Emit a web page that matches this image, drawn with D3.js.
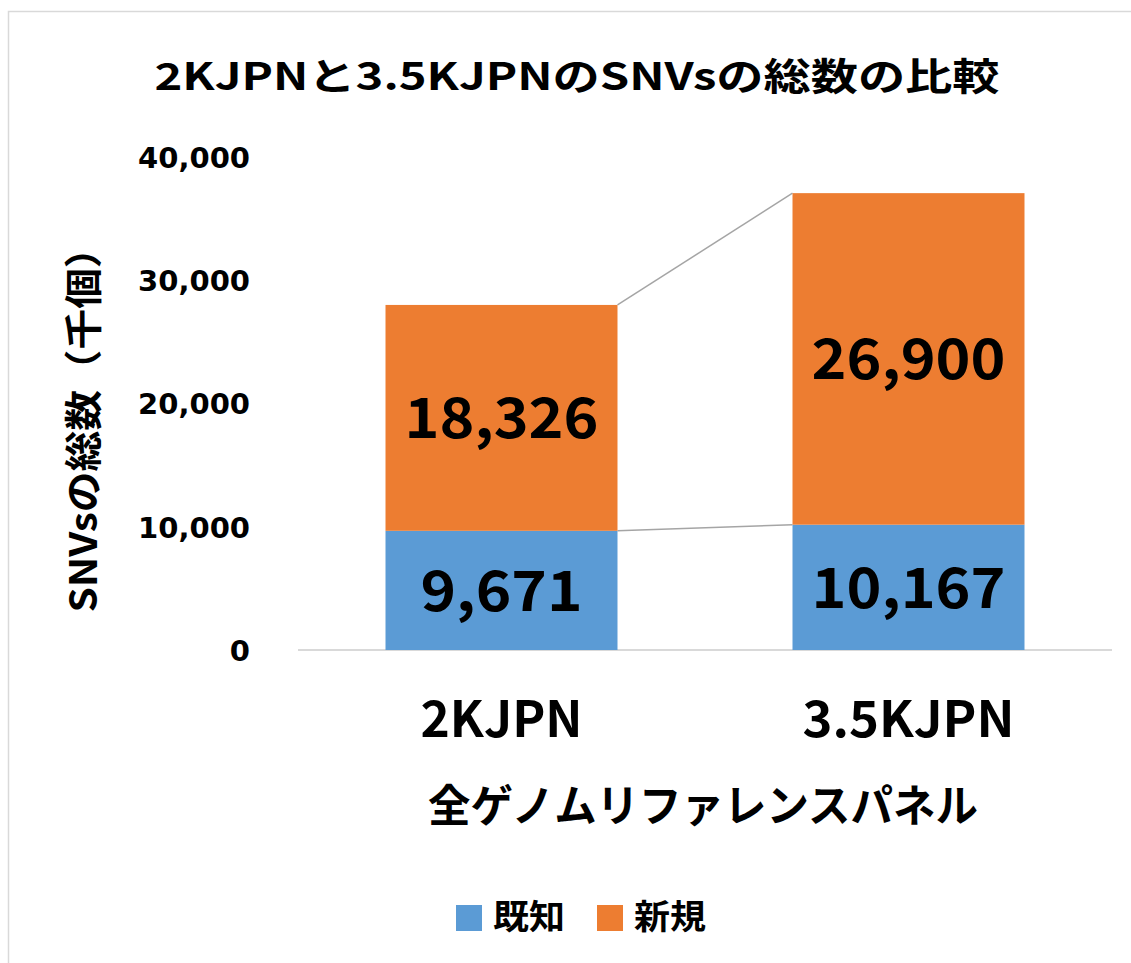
<!DOCTYPE html>
<html>
<head>
<meta charset="utf-8">
<style>
body { margin: 0; background: #fff; }
svg text { fill: #000; font-weight: bold; }
.jp { font-family: "Noto Sans CJK JP", "Noto Sans", sans-serif; }
.tick text { font-family: "DejaVu Sans", Verdana, sans-serif; }
</style>
</head>
<body>
<svg id="chart" width="1131" height="963"></svg>
<script src="https://d3js.org/d3.v7.min.js"></script>
<script>
// data
var categories = ["2KJPN", "3.5KJPN"];
var seriesNames = ["既知", "新規"];
var known = [9671, 10167];
var novel = [18326, 26900];
var yTicks = [0, 10000, 20000, 30000, 40000];
var colors = ["#5b9bd5", "#ed7d31"];

var svg = d3.select("#chart");

// chart border
svg.append("rect")
  .attr("x", 8.5).attr("y", 11.5)
  .attr("width", 1140).attr("height", 980)
  .attr("fill", "none")
  .attr("stroke", "#d9d9d9")
  .attr("stroke-width", 1.5);

var margin = { left: 298, right: 1112, top: 157, bottom: 650 };

var x = d3.scaleBand()
  .domain(categories)
  .range([margin.left, margin.right])
  .paddingInner(0.43)
  .paddingOuter(0.215);

var y = d3.scaleLinear()
  .domain([0, 40000])
  .range([margin.bottom, margin.top]);

var rows = categories.map(function(c, i) {
  return { cat: c, "既知": known[i], "新規": novel[i] };
});
var stacked = d3.stack().keys(seriesNames)(rows);

// title
svg.append("text")
  .attr("class", "jp")
  .attr("x", 577).attr("y", 90)
  .attr("text-anchor", "middle")
  .attr("font-size", 38)
  .attr("textLength", 845)
  .attr("lengthAdjust", "spacingAndGlyphs")
  .text("2KJPNと3.5KJPNのSNVsの総数の比較");

// y axis labels
var yAxis = svg.append("g")
  .attr("transform", "translate(250,0)")
  .call(d3.axisLeft(y).tickValues(yTicks).tickSize(0).tickPadding(0).tickFormat(d3.format(",")));
yAxis.select(".domain").remove();
yAxis.selectAll("text").attr("font-size", 29).attr("dy", "0.36em");

// baseline
svg.append("line")
  .attr("x1", margin.left).attr("x2", margin.right)
  .attr("y1", y(0)).attr("y2", y(0))
  .attr("stroke", "#d9d9d9")
  .attr("stroke-width", 2);

// series connector lines
stacked.forEach(function(s) {
  svg.append("line")
    .attr("x1", x(categories[0]) + x.bandwidth())
    .attr("y1", y(s[0][1]))
    .attr("x2", x(categories[1]))
    .attr("y2", y(s[1][1]))
    .attr("stroke", "#a5a5a5")
    .attr("stroke-width", 1.5);
});

// bars
var layers = svg.selectAll("g.layer")
  .data(stacked).enter()
  .append("g")
  .attr("class", "layer")
  .attr("fill", function(d, i) { return colors[i]; });

layers.selectAll("rect")
  .data(function(d) { return d; }).enter()
  .append("rect")
  .attr("x", function(d) { return x(d.data.cat); })
  .attr("y", function(d) { return y(d[1]); })
  .attr("width", x.bandwidth())
  .attr("height", function(d) { return y(d[0]) - y(d[1]); });

// value labels
layers.selectAll("text")
  .data(function(d) { return d.map(function(p) { return { p: p, key: d.key }; }); }).enter()
  .append("text")
  .attr("class", "jp")
  .attr("x", function(d) { return x(d.p.data.cat) + x.bandwidth() / 2; })
  .attr("y", function(d) { return (y(d.p[0]) + y(d.p[1])) / 2; })
  .attr("dy", "0.36em")
  .attr("text-anchor", "middle")
  .attr("font-size", 56)
  .attr("textLength", function(d) { return d.p.data[d.key] >= 10000 ? 194 : 162; })
  .attr("lengthAdjust", "spacingAndGlyphs")
  .style("fill", "#000")
  .text(function(d) { return d3.format(",")(d.p.data[d.key]); });

// category labels
svg.selectAll("text.cat")
  .data(categories).enter()
  .append("text")
  .attr("class", "cat jp")
  .attr("x", function(d) { return x(d) + x.bandwidth() / 2; })
  .attr("y", 737)
  .attr("text-anchor", "middle")
  .attr("font-size", 50)
  .attr("textLength", function(d, i) { return i === 0 ? 162 : 212; })
  .attr("lengthAdjust", "spacingAndGlyphs")
  .text(function(d) { return d; });

// x axis title
svg.append("text")
  .attr("class", "jp")
  .attr("x", 703).attr("y", 822)
  .attr("text-anchor", "middle")
  .attr("font-size", 44)
  .attr("textLength", 550)
  .attr("lengthAdjust", "spacingAndGlyphs")
  .text("全ゲノムリファレンスパネル");

// y axis title
svg.append("text")
  .attr("class", "jp")
  .attr("transform", "translate(97,420) rotate(-90)")
  .attr("text-anchor", "middle")
  .attr("font-size", 38)
  .attr("textLength", 385)
  .attr("lengthAdjust", "spacingAndGlyphs")
  .text("SNVsの総数（千個）");

// legend
var legendX = [456, 597];
var legend = svg.selectAll("g.legend")
  .data(seriesNames).enter()
  .append("g")
  .attr("class", "legend")
  .attr("transform", function(d, i) { return "translate(" + legendX[i] + ",905)"; });
legend.append("rect")
  .attr("width", 26).attr("height", 26)
  .attr("fill", function(d, i) { return colors[i]; });
legend.append("text")
  .attr("class", "jp")
  .attr("x", 37).attr("y", 24)
  .attr("font-size", 34)
  .attr("textLength", 72)
  .attr("lengthAdjust", "spacingAndGlyphs")
  .text(function(d) { return d; });
</script>
</body>
</html>
